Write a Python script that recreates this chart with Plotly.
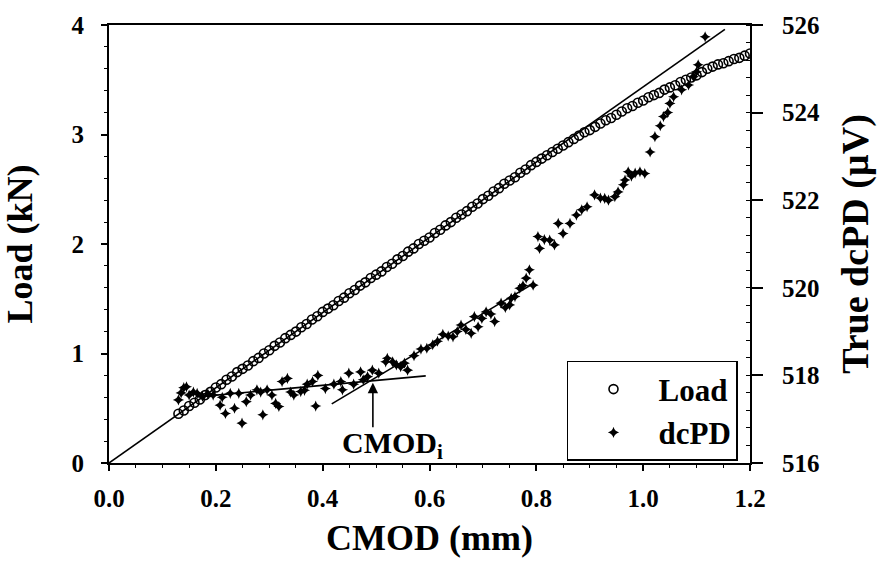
import plotly.graph_objects as go

# ---------------- data ----------------
load_cmod = [0.13, 0.14, 0.15, 0.16, 0.17, 0.18, 0.19, 0.20, 0.21, 0.22, 0.23, 0.24, 0.25,
             0.26, 0.27, 0.28, 0.29, 0.30, 0.31, 0.32, 0.33, 0.34, 0.35, 0.36, 0.37, 0.38,
             0.39, 0.40, 0.41, 0.42, 0.43, 0.44, 0.45, 0.46, 0.47, 0.48, 0.49, 0.50, 0.51,
             0.52, 0.53, 0.54, 0.55, 0.56, 0.57, 0.58, 0.59, 0.60, 0.61, 0.62, 0.63, 0.64,
             0.65, 0.66, 0.67, 0.68, 0.69, 0.70, 0.71, 0.72, 0.73, 0.74, 0.75, 0.76, 0.77,
             0.78, 0.79, 0.80, 0.81, 0.82, 0.83, 0.84, 0.85, 0.86, 0.87, 0.88, 0.89, 0.90,
             0.91, 0.92, 0.93, 0.94, 0.95, 0.96, 0.97, 0.98, 0.99, 1.00, 1.01, 1.02, 1.03,
             1.04, 1.05, 1.06, 1.07, 1.08, 1.09, 1.10, 1.11, 1.12, 1.13, 1.14, 1.15, 1.16,
             1.17, 1.18, 1.19, 1.20]
load_kn = [0.45, 0.48, 0.52, 0.55, 0.58, 0.62, 0.65, 0.69, 0.72, 0.76, 0.79, 0.83, 0.86,
           0.89, 0.93, 0.96, 1.00, 1.03, 1.07, 1.10, 1.14, 1.17, 1.20, 1.24, 1.27, 1.31,
           1.34, 1.38, 1.41, 1.44, 1.48, 1.51, 1.55, 1.58, 1.62, 1.65, 1.69, 1.72, 1.75,
           1.79, 1.82, 1.86, 1.89, 1.93, 1.96, 2.00, 2.03, 2.06, 2.10, 2.13, 2.17, 2.20,
           2.24, 2.27, 2.30, 2.34, 2.37, 2.41, 2.44, 2.48, 2.51, 2.55, 2.58, 2.61, 2.65,
           2.68, 2.72, 2.75, 2.78, 2.81, 2.84, 2.87, 2.90, 2.93, 2.96, 2.99, 3.02, 3.04,
           3.07, 3.10, 3.13, 3.15, 3.18, 3.21, 3.24, 3.26, 3.29, 3.31, 3.34, 3.36, 3.38,
           3.41, 3.43, 3.45, 3.48, 3.50, 3.52, 3.54, 3.57, 3.60, 3.62, 3.64, 3.65, 3.67,
           3.69, 3.70, 3.72, 3.74]

dcpd_cmod = [0.130, 0.135, 0.140, 0.145, 0.150, 0.158, 0.165, 0.175, 0.185, 0.195, 0.208,
             0.212, 0.218, 0.227, 0.235, 0.243, 0.249, 0.257, 0.265, 0.277, 0.284, 0.288,
             0.296, 0.305, 0.312, 0.318, 0.324, 0.334, 0.340, 0.346, 0.359, 0.366, 0.371,
             0.381, 0.387, 0.391, 0.405, 0.421, 0.434, 0.437, 0.449, 0.458, 0.471, 0.476,
             0.484, 0.493, 0.505, 0.518, 0.521, 0.531, 0.538, 0.546, 0.553, 0.559, 0.571,
             0.584, 0.595, 0.606, 0.615, 0.625, 0.635, 0.644, 0.652, 0.659, 0.668, 0.678,
             0.684, 0.691, 0.698, 0.706, 0.715, 0.722, 0.734, 0.742, 0.750, 0.753, 0.760,
             0.769, 0.775, 0.781, 0.787, 0.794, 0.803, 0.806, 0.815, 0.825, 0.834, 0.841,
             0.850, 0.863, 0.875, 0.885, 0.895, 0.909, 0.920, 0.928, 0.935, 0.947, 0.953,
             0.963, 0.966, 0.972, 0.978, 0.985, 0.994, 1.003, 1.013, 1.022, 1.032, 1.038,
             1.046, 1.050, 1.057, 1.072, 1.085, 1.094, 1.100, 1.103, 1.116]
dcpd_uv = [517.44, 517.60, 517.72, 517.74, 517.55, 517.62, 517.59, 517.52, 517.58, 517.55,
           517.32, 517.50, 517.13, 517.59, 517.25, 517.59, 516.91, 517.40, 517.55, 517.67,
           517.62, 517.10, 517.67, 517.55, 517.36, 517.29, 517.86, 517.93, 517.62, 517.55,
           517.63, 517.66, 517.80, 517.86, 517.30, 518.00, 517.70, 517.80, 517.86, 517.67,
           518.05, 517.80, 518.08, 517.90, 517.97, 518.12, 518.05, 518.31, 518.39, 518.31,
           518.24, 518.20, 518.28, 518.12, 518.45, 518.60, 518.62, 518.70, 518.78, 518.94,
           518.90, 518.88, 519.00, 519.15, 519.05, 518.96, 519.34, 519.11, 519.30, 519.45,
           519.40, 519.23, 519.65, 519.55, 519.61, 519.76, 519.80, 519.99, 520.05, 520.22,
           520.41, 520.06, 521.17, 520.90, 521.10, 521.09, 520.98, 521.47, 521.24, 521.47,
           521.66, 521.78, 521.85, 522.12, 522.05, 522.04, 522.00, 522.08, 522.19, 522.35,
           522.46, 522.65, 522.55, 522.62, 522.65, 522.61, 523.10, 523.45, 523.70, 523.91,
           524.00, 524.21, 524.36, 524.52, 524.63, 524.82, 524.93, 525.09, 525.73]

# fitted straight lines
load_fit_x = [0.0, 1.153]
load_fit_y = [0.0, 3.96]
dc_fit1_x = [0.165, 0.593]
dc_fit1_y = [517.51, 517.99]
dc_fit2_x = [0.417, 0.796]
dc_fit2_y = [517.35, 520.11]

# CMOD_i point
cmodi_x = 0.494
cmodi_y = 517.83

x_ticks = [0.0, 0.2, 0.4, 0.6, 0.8, 1.0, 1.2]
x_ticklabels = ["0.0", "0.2", "0.4", "0.6", "0.8", "1.0", "1.2"]
y_ticks = [0, 1, 2, 3, 4]
y2_ticks = [516, 518, 520, 522, 524, 526]

FONT = "Liberation Serif"

fig = go.Figure()

fig.add_trace(go.Scatter(x=load_fit_x, y=load_fit_y, mode="lines",
                         line=dict(color="black", width=1.6), showlegend=False,
                         hoverinfo="skip"))
fig.add_trace(go.Scatter(x=load_cmod, y=load_kn, mode="markers", name="Load",
                         marker=dict(symbol="circle-open", size=9, color="black",
                                     line=dict(width=1.6, color="black"))))
fig.add_trace(go.Scatter(x=dcpd_cmod, y=dcpd_uv, mode="markers", name="dcPD", yaxis="y2",
                         marker=dict(symbol="star-diamond", size=8, color="black",
                                     line=dict(width=0))))
fig.add_trace(go.Scatter(x=dc_fit1_x, y=dc_fit1_y, mode="lines", yaxis="y2",
                         line=dict(color="black", width=1.6), showlegend=False,
                         hoverinfo="skip"))
fig.add_trace(go.Scatter(x=dc_fit2_x, y=dc_fit2_y, mode="lines", yaxis="y2",
                         line=dict(color="black", width=1.6), showlegend=False,
                         hoverinfo="skip"))

tickfont = dict(family=FONT, size=25, color="black", weight="bold")
titlefont = dict(family=FONT, size=36, color="black", weight="bold")

fig.update_layout(
    width=886, height=571,
    margin=dict(l=109, r=136, t=25, b=108),
    paper_bgcolor="white", plot_bgcolor="white",
    showlegend=True,
    legend=dict(x=0.7145, y=0.233, xanchor="left", yanchor="top",
                bgcolor="white", bordercolor="black", borderwidth=1.5,
                font=dict(family=FONT, size=31, color="black", weight="bold"),
                itemwidth=80, tracegroupgap=0),
    xaxis=dict(range=[0, 1.2], tickvals=x_ticks, ticktext=x_ticklabels,
               showline=True, linecolor="black", linewidth=2, mirror=True,
               ticks="outside", ticklen=6, tickwidth=1.5, tickcolor="black",
               minor=dict(dtick=0.05, ticks="outside", ticklen=3, tickwidth=1.2,
                          tickcolor="black"),
               showgrid=False, zeroline=False, tickfont=tickfont,
               ticklabelstandoff=6,
               title=dict(text="CMOD (mm)", font=titlefont, standoff=14)),
    yaxis=dict(range=[0, 4], tickvals=y_ticks,
               showline=True, linecolor="black", linewidth=2,
               ticks="outside", ticklen=6, tickwidth=1.5, tickcolor="black",
               minor=dict(dtick=0.2, ticks="outside", ticklen=3, tickwidth=1.2,
                          tickcolor="black"),
               showgrid=False, zeroline=False, tickfont=tickfont,
               ticklabelstandoff=12,
               title=dict(text="Load (kN)", font=titlefont, standoff=32)),
    yaxis2=dict(range=[516, 526], tickvals=y2_ticks, overlaying="y", side="right",
                showline=True, linecolor="black", linewidth=2,
                ticks="outside", ticklen=11, tickwidth=1.5, tickcolor="black",
                minor=dict(dtick=0.4, ticks="inside", ticklen=4, tickwidth=1.2,
                           tickcolor="black"),
                showgrid=False, zeroline=False, tickfont=tickfont,
                ticklabelstandoff=14,
                title=dict(text="True dcPD (µV)", font=dict(family=FONT, size=38,
                                                            color="black", weight="bold"),
                           standoff=22)),
)

# CMOD_i label with an upward arrow pointing at the intersection of the fitted lines
fig.add_annotation(x=cmodi_x, y=cmodi_y, xref="x", yref="y2", text="",
                   showarrow=True, arrowhead=2, arrowsize=1.3, arrowwidth=1.6,
                   arrowcolor="black", ax=0, ay=46)
fig.add_annotation(x=cmodi_x, y=cmodi_y, xref="x", yref="y2",
                   text="CMOD<sub>i</sub>", showarrow=False,
                   xshift=20, yshift=-62,
                   font=dict(family=FONT, size=30, color="black", weight="bold"))

fig.write_html("out.html")
